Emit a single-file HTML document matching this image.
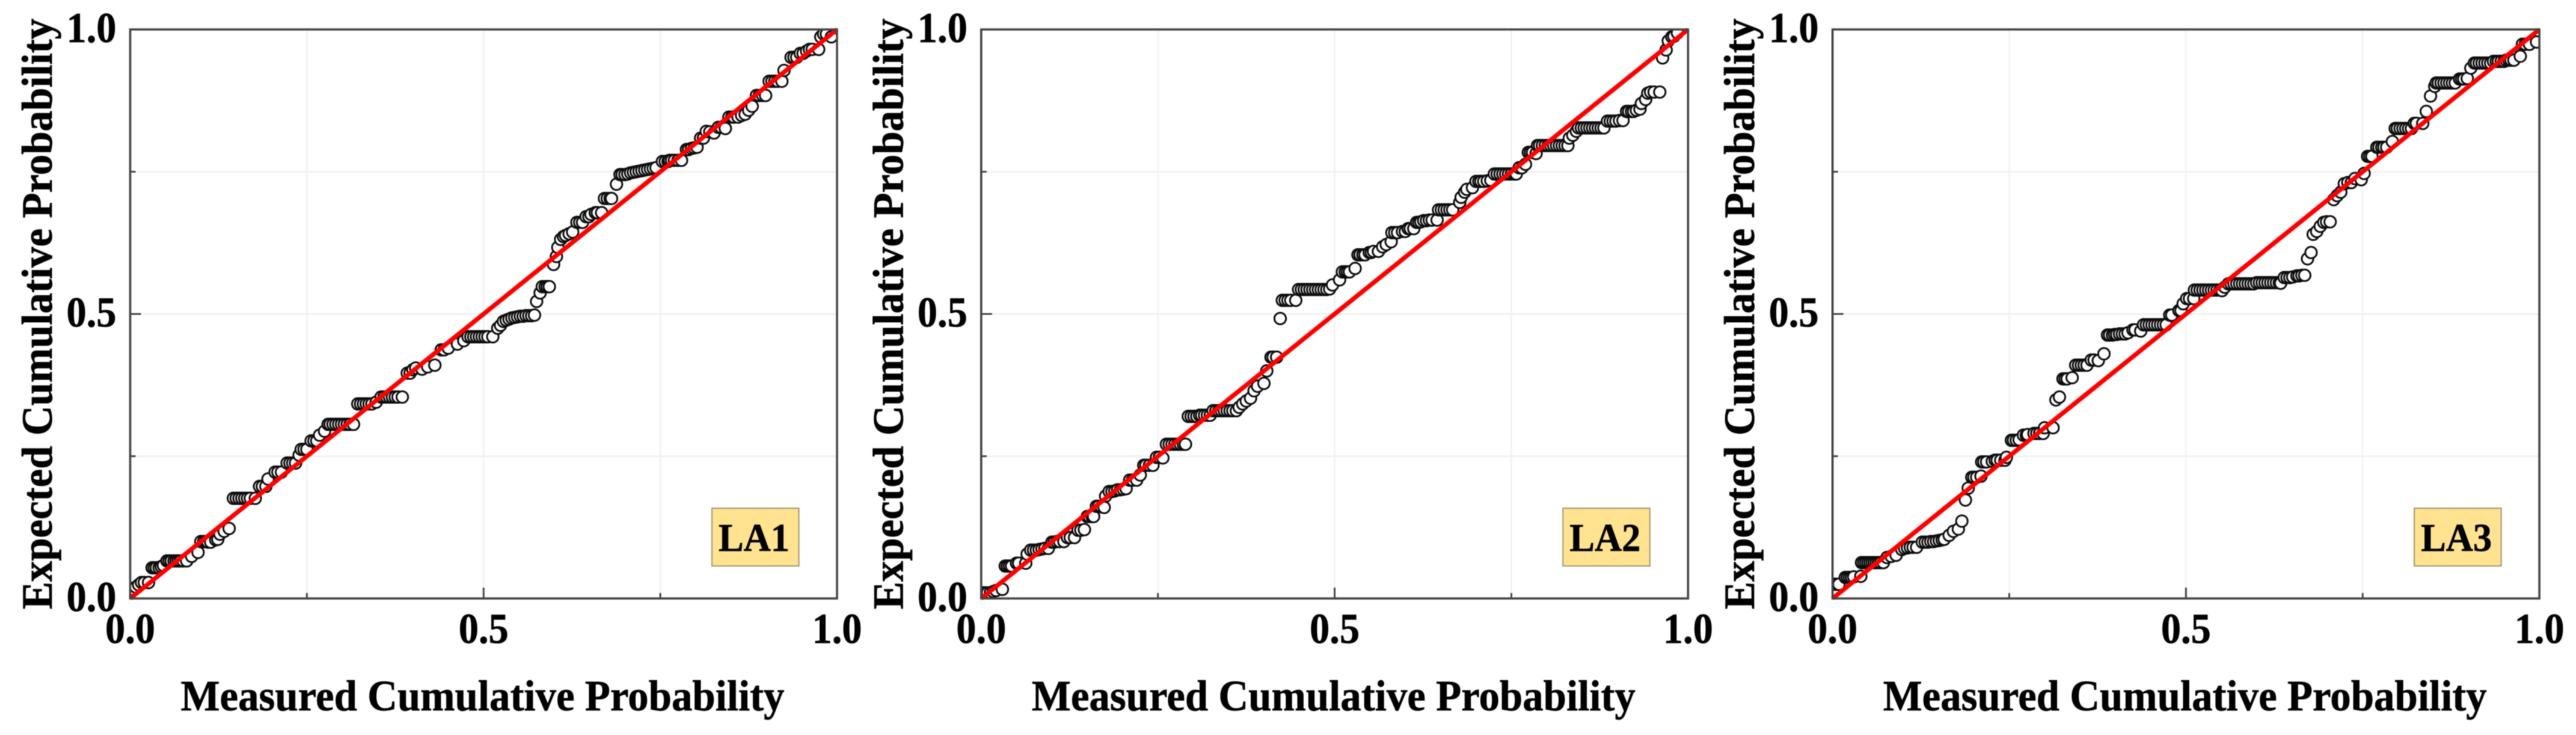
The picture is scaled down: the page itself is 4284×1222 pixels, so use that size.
<!DOCTYPE html>
<html lang="en">
<head>
<meta charset="utf-8">
<title>Cumulative Probability Plots LA1 LA2 LA3</title>
<style>
html,body{margin:0;padding:0;background:#fff;}
svg{display:block;width:4284px;height:1222px;filter:blur(0.8px);}
text{font-family:"Liberation Serif",serif;font-weight:700;fill:#000;stroke:#000;stroke-width:0.7px;}
</style>
</head>
<body>
<svg id="figure" xmlns="http://www.w3.org/2000/svg" width="4284" height="1222" viewBox="0 0 4284 1222">
  <rect x="0" y="0" width="4284" height="1222" fill="#ffffff"/>
</svg>
<script>
const panelLabels = ['LA1', 'LA2', 'LA3'];
const tickLabels = ['0.0', '0.5', '1.0'];
const tickValues = [0, 0.5, 1];
const minorTickValues = [0.25, 0.75];
const gridValues = [0.25, 0.5, 0.75];
const xAxisTitle = 'Measured Cumulative Probability';
const yAxisTitle = 'Expected Cumulative Probability';
const referenceLineStart = [0, 0];
const referenceLineEnd = [1, 1];

const la1Measured = [
.004,.008,.012,.016,.020,.026,
.031,.034,.037,.041,.044,.047,
.052,.055,.058,.062,.065,.068,.071,.075,.080,
.087,.096,
.100,.104,.107,.110,.114,.121,.124,.127,.133,.140,
.146,.150,.154,.158,.162,.166,.170,.177,
.183,.187,.192,.195,
.205,.209,.214,
.222,.226,.230,.234,
.239,.242,.246,.250,
.256,.260,.264,.268,.275,
.280,.283,.287,.291,.295,.299,.303,.307,.311,.316,
.322,.326,.330,.334,.338,.342,.348,
.355,.359,.363,.367,.371,.375,.379,.385,
.392,.396,.400,.404,.413,.421,.431,
.440,.444,.450,.463,.472,
.478,.482,.486,.490,.494,.498,.502,.506,.513,
.520,.524,.528,.532,.536,.540,.544,.548,.552,.556,.560,.564,.568,.572,
.575,.580,.583,.587,.590,.593,
.599,.603,.605,.609,.613,.616,.621,.626,
.632,.636,.640,.645,.649,.652,.658,.661,.667,
.671,.675,.679,.681,
.688,.693,.696,
.700,.704,.708,.712,.716,.720,.724,.728,.732,.736,.740,.744,
.753,.757,.761,.763,.766,.770,.775,.780,
.787,.790,.794,.798,.802,
.807,.811,.815,.820,.826,
.832,.836,.842,
.847,.851,.854,.860,.865,.870,.875,.880,
.886,.890,.895,.899,
.904,.908,.912,.916,.922,.925,
.935,.939,.943,.948,.952,.957,.961,.965,.974,
.977,.981,.985,.992
];
const la1Expected = [
.016,.020,.024,.028,.028,.028,
.054,.054,.054,.054,.056,.058,
.066,.066,.066,.066,.066,.066,.066,.066,.066,
.074,.081,
.100,.100,.100,.099,.099,.103,.104,.113,.118,.123,
.176,.176,.176,.176,.176,.176,.176,.176,
.197,.197,.197,.210,
.222,.222,.222,
.238,.238,.238,.238,
.252,.262,.262,.262,
.277,.277,.277,.287,.294,
.306,.306,.306,.306,.306,.306,.306,.306,.306,.306,
.342,.342,.342,.342,.342,.342,.345,
.354,.354,.354,.354,.354,.354,.354,.354,
.396,.396,.402,.405,.403,.407,.410,
.437,.437,.440,.447,.453,
.460,.460,.460,.460,.460,.460,.460,.460,.460,
.475,.480,.487,.489,.491,.493,.494,.495,.496,.496,.497,.497,.497,.498,
.522,.537,.548,.548,.548,.548,
.587,.601,.617,.631,.636,.638,.641,.644,
.661,.661,.661,.671,.671,.675,.678,.678,.678,
.703,.703,.703,.703,
.728,.745,.745,
.745,.746,.748,.749,.750,.751,.752,.753,.754,.755,.756,.757,
.768,.768,.768,.770,.770,.770,.770,.770,
.789,.789,.791,.792,.793,
.809,.809,.821,.820,.818,
.828,.828,.826,
.846,.846,.846,.846,.849,.851,.858,.865,
.884,.884,.884,.884,
.909,.909,.909,.909,.909,.928,
.951,.951,.951,.958,.958,.962,.965,.965,.965,
.987,.992,.992,.987
];

const la2Measured = [
.002,.005,.009,.013,.017,.021,.030,
.034,.037,.040,.043,.050,.053,.063,.065,
.070,.074,.078,.082,.086,.090,.095,
.100,.103,.107,.111,.117,.122,.126,.132,
.137,.141,.146,.150,.153,.157,.159,
.163,.166,.170,.174,.176,
.181,.185,.189,.193,.197,.201,.205,
.210,.214,.220,.225,
.230,.233,.238,.243,
.248,.252,.257,
.262,.266,.270,.274,.278,.282,.286,.289,
.293,.297,.301,.305,.309,.312,.316,.320,.324,
.328,.332,.336,.340,.344,.348,.352,.356,.361,
.365,.370,.375,.381,.386,.391,.400,.404,
.410,.413,.418,.423,
.426,.430,.434,.438,.445,
.449,.453,.457,.461,.465,.469,.473,.477,.481,.485,.489,
.493,.497,.507,.511,.515,.518,.521,.529,
.533,.536,.540,.543,.549,.552,.555,.562,.568,.573,.580,
.581,.585,.589,.596,.600,.604,.607,.612,
.616,.619,.622,.626,.630,.634,.638,.645,
.647,.651,.655,.659,.663,.667,.677,.679,.684,.687,.695,
.700,.704,.707,.711,.716,.721,
.726,.730,.734,.738,.742,.746,.750,.754,.757,.761,.765,.770,
.774,.777,.780,.785,
.787,.790,.794,.798,.802,.806,.810,.814,.818,.822,.826,.830,
.832,.837,.842,
.845,.849,.853,.857,.861,.865,.869,.873,.877,.881,
.886,.890,.894,.898,.903,.908,
.913,.916,.920,.923,.927,.932,
.934,.940,.943,.947,.952,.960,
.964,.969,.972,.977,.980,.985
];
const la2Expected = [
.010,.010,.010,.010,.012,.014,.016,
.057,.057,.057,.057,.062,.062,.062,.078,
.085,.085,.085,.086,.087,.088,.088,
.099,.099,.100,.100,.100,.107,.107,.107,
.120,.120,.121,.144,.144,.144,.144,
.162,.162,.161,.160,.180,
.188,.188,.189,.191,.191,.192,.193,
.208,.208,.208,.217,
.234,.234,.234,.234,
.248,.248,.247,
.271,.271,.271,.271,.271,.271,.271,.271,
.320,.320,.320,.320,.322,.322,.322,.322,.322,
.330,.330,.330,.330,.330,.330,.330,.330,.330,
.336,.342,.347,.352,.365,.373,.378,.400,
.424,.424,.424,.492,
.524,.524,.524,.524,.524,
.543,.543,.543,.543,.543,.543,.543,.543,.543,.543,.543,
.544,.551,.560,.574,.574,.574,.574,.580,
.604,.604,.604,.604,.608,.608,.610,.610,.618,.622,.627,
.643,.643,.643,.645,.645,.650,.650,.650,
.661,.661,.662,.664,.664,.665,.665,.665,
.683,.683,.683,.683,.683,.683,.696,.705,.714,.719,.722,
.733,.733,.733,.733,.734,.735,
.746,.746,.746,.746,.746,.746,.746,.746,.746,.757,.757,.763,
.784,.784,.784,.782,
.796,.796,.796,.796,.796,.796,.796,.796,.796,.796,.796,.796,
.809,.814,.821,
.827,.827,.827,.827,.827,.827,.827,.827,.827,.827,
.839,.839,.839,.839,.840,.840,
.856,.856,.856,.856,.858,.860,
.870,.877,.888,.890,.890,.890,
.950,.964,.980,.987,.988,.994
];

const la3Measured = [
.001,.003,.006,.009,
.018,.021,.024,.027,.030,.040,
.041,.044,.047,.050,.053,.056,.059,.062,.065,.068,.072,
.077,.083,.090,.098,.102,.106,.110,.114,.119,
.127,.131,.135,.139,.143,.147,.151,.155,.158,
.165,.171,.178,.183,.188,.192,
.197,.200,.204,.210,
.211,.214,.218,.226,.230,.233,.238,.244,.246,
.253,.256,.260,.264,.270,.274,.276,.285,.289,.293,.298,.300,.312,
.316,.321,
.326,.329,.332,.339,
.344,.348,.352,.356,.360,.366,.370,.376,.384,
.389,.392,.396,.399,.402,.406,.410,.414,.418,.425,.428,.436,
.440,.444,.448,.452,.456,.460,.464,.468,.472,
.477,.480,.490,.493,.496,.501,.505,.511,
.512,.516,.520,.524,.528,.532,.536,.540,.544,.548,.551,
.555,.560,.564,.568,.572,.576,.580,.584,.588,.592,.596,
.600,.604,.608,.612,.616,.620,.624,.628,.632,.634,
.639,.643,.647,.651,.657,.660,.664,.668,
.672,.677,.680,.685,.690,.695,.699,.704,
.709,.714,.719,.724,.729,.734,.739,.748,.752,
.757,.760,.763,.770,.773,.777,.780,.784,.792,
.796,.799,.803,.807,.811,.815,.819,.823,.826,.835,.840,
.846,.852,.854,.857,.861,.865,.869,.873,.877,.881,.887,.890,.893,.898,
.903,.908,.911,.915,.919,.923,.927,.931,.935,.939,.942,.946,.950,.953,.957,.960,.964,.973,
.976,.980,.986,.996
];
const la3Expected = [
.025,.025,.025,.025,
.037,.037,.037,.037,.038,.039,
.063,.063,.063,.063,.063,.063,.063,.063,.063,.063,.063,
.072,.074,.076,.086,.088,.089,.090,.090,.090,
.099,.099,.099,.100,.100,.101,.102,.103,.104,
.111,.118,.122,.136,.173,.194,
.213,.213,.213,.215,
.240,.240,.240,.241,.243,.243,.243,.243,.248,
.278,.278,.278,.279,.287,.287,.288,.290,.290,.290,.290,.300,.300,
.349,.354,
.386,.386,.386,.388,
.410,.410,.410,.410,.410,.419,.419,.418,.430,
.463,.463,.463,.464,.464,.465,.465,.465,.467,.472,.472,.470,
.481,.481,.481,.481,.481,.481,.481,.481,.481,
.498,.498,.506,.506,.518,.527,.527,.527,
.542,.542,.542,.542,.542,.542,.542,.542,.542,.542,.541,
.547,.553,.553,.553,.553,.553,.553,.553,.553,.553,.553,
.555,.555,.555,.555,.555,.555,.555,.555,.555,.554,
.564,.564,.564,.565,.567,.567,.568,.568,
.597,.608,.640,.645,.654,.661,.662,.662,
.701,.708,.714,.729,.731,.731,.738,.736,.747,
.777,.777,.777,.793,.793,.793,.793,.793,.803,
.826,.826,.826,.826,.826,.826,.826,.835,.835,.835,.856,
.883,.900,.906,.906,.906,.906,.906,.906,.906,.906,.913,.913,.913,.914,
.932,.941,.941,.941,.941,.941,.941,.941,.944,.944,.944,.944,.944,.946,.946,.946,.946,.953,
.974,.974,.974,.978
];

const panelMeasured = [la1Measured, la2Measured, la3Measured];
const panelExpected = [la1Expected, la2Expected, la3Expected];

const SVG_NS = 'http://www.w3.org/2000/svg';
const figure = document.getElementById('figure');
const PANEL_OFFSET = [0, 1415.3, 2831.1];
const PLOT_LEFT = 216.5, PLOT_RIGHT = 1392, PLOT_TOP = 49, PLOT_BOTTOM = 995;

function sx(v) { return PLOT_LEFT + v * (PLOT_RIGHT - PLOT_LEFT); }
function sy(v) { return PLOT_BOTTOM - v * (PLOT_BOTTOM - PLOT_TOP); }

function make(parent, tag, attrs, content) {
  const node = document.createElementNS(SVG_NS, tag);
  for (const key in attrs) node.setAttribute(key, attrs[key]);
  if (content !== undefined) node.textContent = content;
  parent.appendChild(node);
  return node;
}

panelLabels.forEach(function (label, p) {
  const prefix = label.toLowerCase();
  const g = make(figure, 'g', { transform: 'translate(' + PANEL_OFFSET[p] + ',0)' });
  
  

  const defs = make(g, 'defs', {});
  const clip = make(defs, 'clipPath', { id: prefix + '-clip' });
  make(clip, 'rect', { x: PLOT_LEFT, y: PLOT_TOP, width: PLOT_RIGHT - PLOT_LEFT, height: PLOT_BOTTOM - PLOT_TOP });

  const plotBg = make(g, 'rect', { x: PLOT_LEFT, y: PLOT_TOP, width: PLOT_RIGHT - PLOT_LEFT, height: PLOT_BOTTOM - PLOT_TOP, fill: '#ffffff' });
  
  

  gridValues.forEach(function (v) {
    const gx = make(g, 'line', { x1: sx(v), x2: sx(v), y1: PLOT_TOP, y2: PLOT_BOTTOM, stroke: '#f1f1f1', 'stroke-width': 2.5 });
    
    
    const gy = make(g, 'line', { x1: PLOT_LEFT, x2: PLOT_RIGHT, y1: sy(v), y2: sy(v), stroke: '#f1f1f1', 'stroke-width': 3 });
    
    
  });

  const points = make(g, 'g', { 'clip-path': 'url(#' + prefix + '-clip)' });
  
  
  const xs = panelMeasured[p];
  const ys = panelExpected[p];
  const count = Math.min(xs.length, ys.length);
  for (let i = 0; i < count; i++) {
    const dot = make(points, 'circle', { cx: sx(xs[i]), cy: sy(ys[i]), r: 9.6, fill: '#ffffff', stroke: '#0c0c0c', 'stroke-width': 3 });
    
    
  }

  const refLine = make(g, 'line', {
    x1: sx(referenceLineStart[0]), y1: sy(referenceLineStart[1]),
    x2: sx(referenceLineEnd[0]), y2: sy(referenceLineEnd[1]),
    stroke: '#ff0000', 'stroke-width': 7.5
  });
  
  

  const frame = make(g, 'rect', { x: PLOT_LEFT, y: PLOT_TOP, width: PLOT_RIGHT - PLOT_LEFT, height: PLOT_BOTTOM - PLOT_TOP, fill: 'none', stroke: '#444444', 'stroke-width': 3.6 });
  
  

  tickValues.forEach(function (v, i) {
    const tx = make(g, 'line', { x1: sx(v), x2: sx(v), y1: PLOT_BOTTOM, y2: PLOT_BOTTOM - 18, stroke: '#444444', 'stroke-width': 3 });
    
    
    const ty = make(g, 'line', { x1: PLOT_LEFT, x2: PLOT_LEFT + 18, y1: sy(v), y2: sy(v), stroke: '#444444', 'stroke-width': 3 });
    
    

    const xLab = make(g, 'text', { x: sx(v), y: PLOT_BOTTOM + 74, 'text-anchor': 'middle', 'font-size': 71, textLength: 83, lengthAdjust: 'spacingAndGlyphs' }, tickLabels[i]);
    
    
    const yLab = make(g, 'text', { x: PLOT_LEFT - 23, y: sy(v) + 21, 'text-anchor': 'end', 'font-size': 71, textLength: 83, lengthAdjust: 'spacingAndGlyphs' }, tickLabels[i]);
    
    
  });

  minorTickValues.forEach(function (v) {
    const tx = make(g, 'line', { x1: sx(v), x2: sx(v), y1: PLOT_BOTTOM, y2: PLOT_BOTTOM - 9, stroke: '#444444', 'stroke-width': 3 });
    
    
    const ty = make(g, 'line', { x1: PLOT_LEFT, x2: PLOT_LEFT + 9, y1: sy(v), y2: sy(v), stroke: '#444444', 'stroke-width': 3 });
    
    
  });

  const xTitle = make(g, 'text', { x: 300.5, y: 1181, 'font-size': 72, textLength: 1004, lengthAdjust: 'spacingAndGlyphs' }, xAxisTitle);
  
  

  const yTitle = make(g, 'text', { x: 0, y: 0, transform: 'translate(86,1013) rotate(-90)', 'font-size': 72, textLength: 982, lengthAdjust: 'spacingAndGlyphs' }, yAxisTitle);
  
  

  const badge = make(g, 'rect', { x: 1184, y: 845, width: 144.5, height: 96, fill: '#ffe391', stroke: '#a99c74', 'stroke-width': 2.2 });
  
  

  const badgeText = make(g, 'text', { x: 1195, y: 916, 'font-size': 66, textLength: 118, lengthAdjust: 'spacingAndGlyphs' }, label);
  
  
});
</script>
</body>
</html>
